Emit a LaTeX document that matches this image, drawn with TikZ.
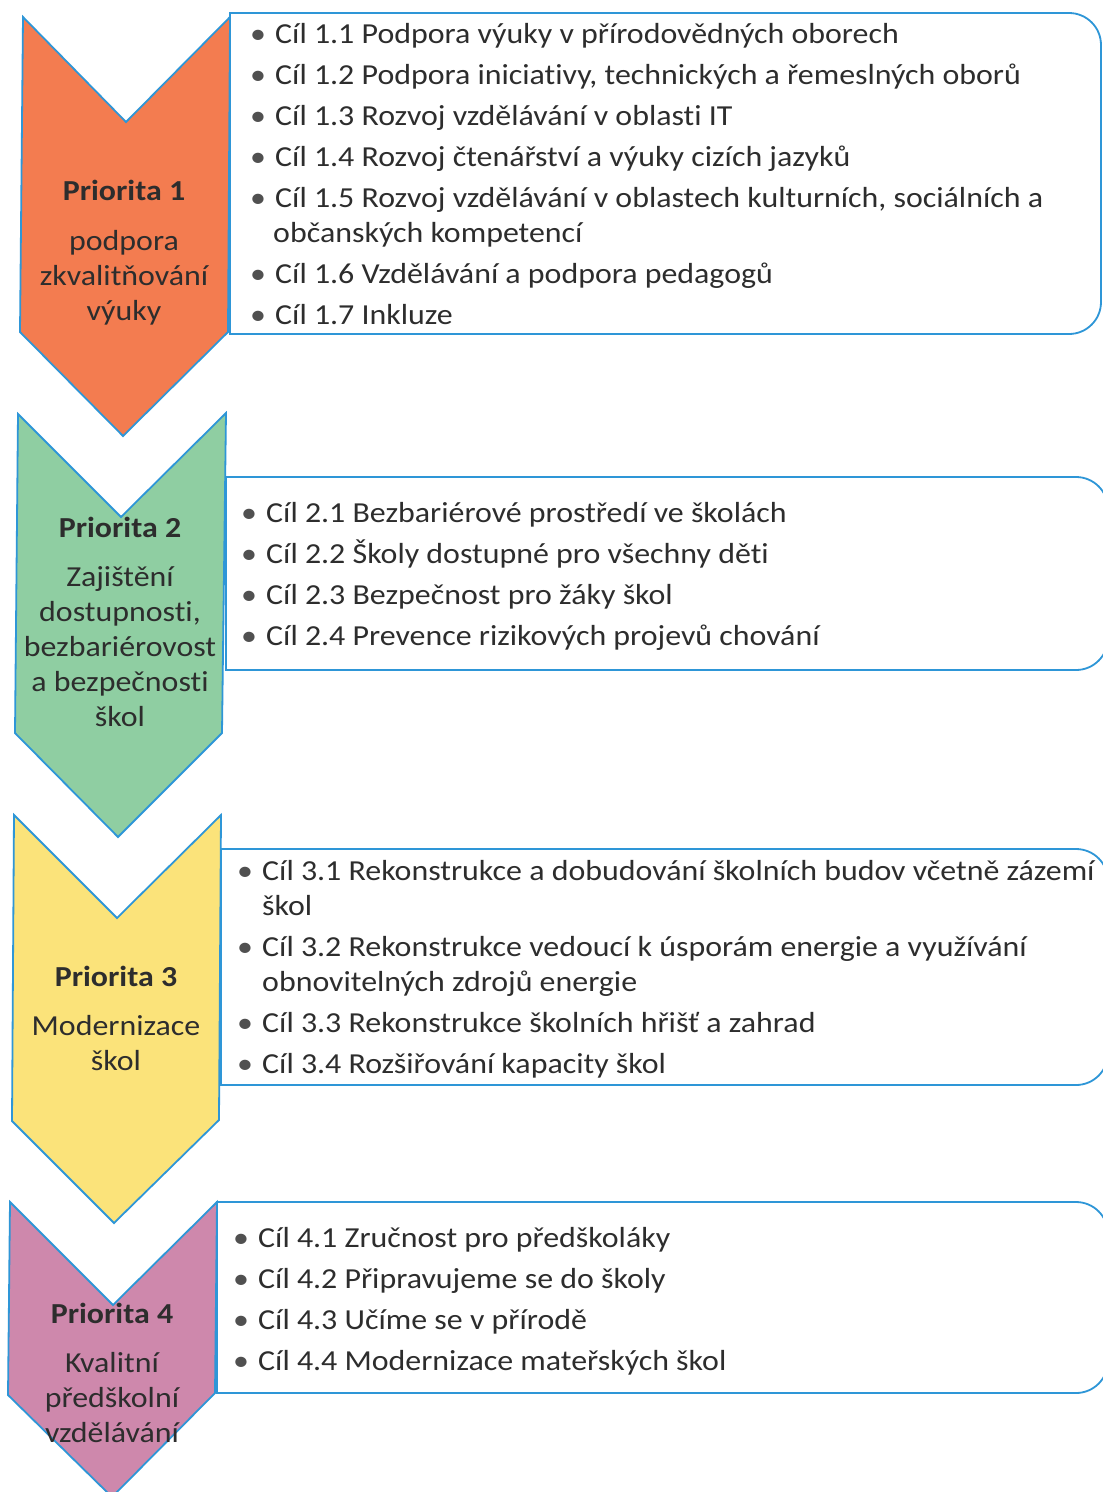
\documentclass[tikz,border=0pt]{standalone}
\usepackage{fontspec}
\setmainfont{Carlito}[FakeStretch=1.1,Ligatures=NoCommon]
\definecolor{bordblue}{RGB}{46,150,215}
\definecolor{corange}{RGB}{243,124,80}
\definecolor{cgreen}{RGB}{143,206,162}
\definecolor{cyellow}{RGB}{251,227,122}
\definecolor{cpink}{RGB}{206,136,172}
\definecolor{txt}{RGB}{45,45,45}
\definecolor{bul}{RGB}{80,80,80}
\newcommand{\bl}{\makebox[25pt][l]{\textcolor{bul}{•}}}
\begin{document}
\begin{tikzpicture}[x=1pt,y=-1pt,
  chev/.style={draw=bordblue, line width=1.8pt, line join=miter},
  goalbox/.style={draw=bordblue, line width=1.8pt, fill=white},
  item/.style={anchor=base west, inner sep=0pt, text=txt, font=\fontsize{29}{35}\selectfont},
  ptitle/.style={anchor=base, inner sep=0pt, text=txt, font=\fontsize{29}{35}\selectfont\bfseries},
  pline/.style={anchor=base, inner sep=0pt, text=txt, font=\fontsize{29}{35}\selectfont}]
\useasboundingbox (0,0) rectangle (1103,1492);
\clip (0,0) rectangle (1103,1492);
\fill[white] (0,0) rectangle (1103,1492);

% ---- Priority 1 ----
\path[chev, fill=corange] (23,17) -- (126,122) -- (230,17) -- (228,332) -- (123,436) -- (20,332) -- cycle;
\path[goalbox] (230,13) -- (1069,13) .. controls (1086.7,13) and (1101,27.3) .. (1101,45)
  -- (1101,302) .. controls (1101,319.7) and (1086.7,334) .. (1069,334) -- (230,334) -- cycle;
\node[ptitle] (p1t) at (124,200) {Priorita 1};
\node[pline] (p1a) at (124,250) {podpora};
\node[pline] (p1b) at (124,285) {zkvalitňování};
\node[pline] (p1c) at (124,320) {výuky};
\node[item] (g11) at (250,43) {\bl Cíl 1.1 Podpora výuky v přírodovědných oborech};
\node[item] (g12) at (250,84) {\bl Cíl 1.2 Podpora iniciativy, technických a řemeslných oborů};
\node[item] (g13) at (250,125) {\bl Cíl 1.3 Rozvoj vzdělávání v oblasti IT};
\node[item] (g14) at (250,166) {\bl Cíl 1.4 Rozvoj čtenářství a výuky cizích jazyků};
\node[item] (g15) at (250,207) {\bl Cíl 1.5 Rozvoj vzdělávání v oblastech kulturních, sociálních a};
\node[item] (g15b) at (273,242) {občanských kompetencí};
\node[item] (g16) at (250,283) {\bl Cíl 1.6 Vzdělávání a podpora pedagogů};
\node[item] (g17) at (250,324) {\bl Cíl 1.7 Inkluze};

% ---- Priority 2 ----
\path[chev, fill=cgreen] (18,414) -- (121,517) -- (226,413) -- (222,733) -- (118,837) -- (15,733) -- cycle;
\path[goalbox] (226,477) -- (1076,477) .. controls (1093.7,477) and (1108,491.3) .. (1108,509)
  -- (1108,638) .. controls (1108,655.7) and (1093.7,670) .. (1076,670) -- (226,670) -- cycle;
\node[ptitle] (p2t) at (120,537) {Priorita 2};
\node[pline] (p2a) at (120,586) {Zajištění};
\node[pline] (p2b) at (120,621) {dostupnosti,};
\node[pline] (p2c) at (120,656) {bezbariérovost};
\node[pline] (p2d) at (120,691) {a bezpečnosti};
\node[pline] (p2e) at (120,726) {škol};
\node[item] (g21) at (241,522) {\bl Cíl 2.1 Bezbariérové prostředí ve školách};
\node[item] (g22) at (241,563) {\bl Cíl 2.2 Školy dostupné pro všechny děti};
\node[item] (g23) at (241,604) {\bl Cíl 2.3 Bezpečnost pro žáky škol};
\node[item] (g24) at (241,645) {\bl Cíl 2.4 Prevence rizikových projevů chování};

% ---- Priority 3 ----
\path[chev, fill=cyellow] (14,815) -- (117,918) -- (221,815) -- (219,1120) -- (114,1223) -- (12,1121) -- cycle;
\path[goalbox] (221,849) -- (1076,849) .. controls (1093.7,849) and (1108,863.3) .. (1108,881)
  -- (1108,1053) .. controls (1108,1070.7) and (1093.7,1085) .. (1076,1085) -- (221,1085) -- cycle;
\node[ptitle] (p3t) at (116,986) {Priorita 3};
\node[pline] (p3a) at (116,1035) {Modernizace};
\node[pline] (p3b) at (116,1070) {škol};
\node[item] (g31) at (237,880) {\bl Cíl 3.1 Rekonstrukce a dobudování školních budov včetně zázemí};
\node[item] (g31b) at (262,915) {škol};
\node[item] (g32) at (237,956) {\bl Cíl 3.2 Rekonstrukce vedoucí k úsporám energie a využívání};
\node[item] (g32b) at (262,991) {obnovitelných zdrojů energie};
\node[item] (g33) at (237,1032) {\bl Cíl 3.3 Rekonstrukce školních hřišť a zahrad};
\node[item] (g34) at (237,1073) {\bl Cíl 3.4 Rozšiřování kapacity škol};

% ---- Priority 4 ----
\path[chev, fill=cpink] (10,1202) -- (113,1305) -- (217,1202) -- (215,1393) -- (112,1497) -- (8,1395) -- cycle;
\path[goalbox] (217,1202) -- (1076,1202) .. controls (1093.7,1202) and (1108,1216.3) .. (1108,1234)
  -- (1108,1361) .. controls (1108,1378.7) and (1093.7,1393) .. (1076,1393) -- (217,1393) -- cycle;
\node[ptitle] (p4t) at (112,1323) {Priorita 4};
\node[pline] (p4a) at (112,1372) {Kvalitní};
\node[pline] (p4b) at (112,1407) {předškolní};
\node[pline] (p4c) at (112,1442) {vzdělávání};
\node[item] (g41) at (233,1247) {\bl Cíl 4.1 Zručnost pro předškoláky};
\node[item] (g42) at (233,1288) {\bl Cíl 4.2 Připravujeme se do školy};
\node[item] (g43) at (233,1329) {\bl Cíl 4.3 Učíme se v přírodě};
\node[item] (g44) at (233,1370) {\bl Cíl 4.4 Modernizace mateřských škol};
\end{tikzpicture}
\end{document}
